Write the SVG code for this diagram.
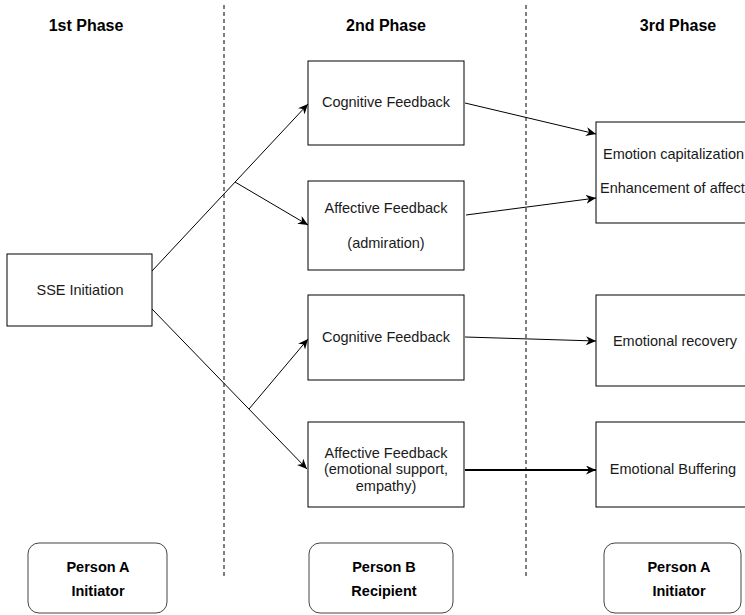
<svg xmlns="http://www.w3.org/2000/svg" width="745" height="615" viewBox="0 0 745 615">
<style>
.box{fill:#fff;stroke:#000;stroke-width:1}
.rbox{fill:#fff;stroke:#444;stroke-width:1}
.t{font-family:"Liberation Sans",Arial,sans-serif;font-size:14.5px;fill:#1a1a1a;text-anchor:middle}
.l{text-anchor:start}
.b{font-family:"Liberation Sans",Arial,sans-serif;font-size:14.5px;font-weight:bold;fill:#000;text-anchor:middle}
.h{font-family:"Liberation Sans",Arial,sans-serif;font-size:16px;font-weight:bold;fill:#000;text-anchor:middle}
.c{fill:none;stroke:#000;stroke-width:1}
.a{marker-end:url(#arr)}
.sep{stroke:#000;stroke-width:1;stroke-dasharray:4 3}
</style>
<defs>
<marker id="arr" markerUnits="userSpaceOnUse" markerWidth="11" markerHeight="9" refX="10" refY="4.5" orient="auto">
<path d="M0,0 L10,4.5 L0,9 L3,4.5 z" fill="#000"/>
</marker>
</defs>
<rect width="745" height="615" fill="#fff"/>
<g id="separators">
<line class="sep" x1="224" y1="5" x2="224" y2="578"/>
<line class="sep" x1="526" y1="5" x2="526" y2="578"/>
</g>
<g id="titles">
<text class="h" x="86" y="31">1st Phase</text>
<text class="h" x="386" y="31">2nd Phase</text>
<text class="h" x="678" y="31">3rd Phase</text>
</g>
<g id="connectors">
<line class="c a" x1="152" y1="271" x2="308" y2="104"/>
<line class="c a" x1="235" y1="182" x2="308" y2="225"/>
<line class="c a" x1="152" y1="309" x2="307" y2="469"/>
<line class="c a" x1="249" y1="409" x2="308" y2="339"/>
<line class="c a" x1="465" y1="103" x2="596" y2="134"/>
<line class="c a" x1="466" y1="215" x2="596" y2="198"/>
<line class="c a" x1="465" y1="337" x2="596" y2="341"/>
<line class="c a" x1="465" y1="470" x2="596" y2="470" style="stroke-width:2"/>
</g>
<g id="sse">
<rect class="box" x="7" y="254" width="145" height="72"/>
<text class="t" x="80" y="295">SSE Initiation</text>
</g>
<g id="cog1">
<rect class="box" x="308" y="61" width="156" height="84"/>
<text class="t" x="386" y="107">Cognitive Feedback</text>
</g>
<g id="aff1">
<rect class="box" x="308" y="181" width="156" height="89"/>
<text class="t" x="386" y="213">Affective Feedback</text>
<text class="t" x="386" y="248">(admiration)</text>
</g>
<g id="cog2">
<rect class="box" x="308" y="295" width="156" height="85"/>
<text class="t" x="386" y="342">Cognitive Feedback</text>
</g>
<g id="aff2">
<rect class="box" x="308" y="422" width="156" height="85"/>
<text class="t" x="386" y="458">Affective Feedback</text>
<text class="t" x="386" y="474">(emotional support,</text>
<text class="t" x="386" y="491">empathy)</text>
</g>
<g id="cap">
<rect class="box" x="596" y="122" width="158" height="101"/>
<text class="t l" x="603" y="159">Emotion capitalization</text>
<text class="t l" x="600" y="193">Enhancement of affect</text>
</g>
<g id="recovery">
<rect class="box" x="596" y="295" width="158" height="91"/>
<text class="t" x="675" y="346">Emotional recovery</text>
</g>
<g id="buffering">
<rect class="box" x="596" y="422" width="158" height="85"/>
<text class="t" x="673" y="474">Emotional Buffering</text>
</g>
<g id="personA1">
<rect class="rbox" x="28" y="543" width="139" height="70" rx="11"/>
<text class="b" x="98" y="572">Person A</text>
<text class="b" x="98" y="596">Initiator</text>
</g>
<g id="personB">
<rect class="rbox" x="309" y="543" width="144" height="70" rx="11"/>
<text class="b" x="384" y="572">Person B</text>
<text class="b" x="384" y="596">Recipient</text>
</g>
<g id="personA2">
<rect class="rbox" x="604" y="543" width="137" height="70" rx="11"/>
<text class="b" x="679" y="572">Person A</text>
<text class="b" x="679" y="596">Initiator</text>
</g>
</svg>
